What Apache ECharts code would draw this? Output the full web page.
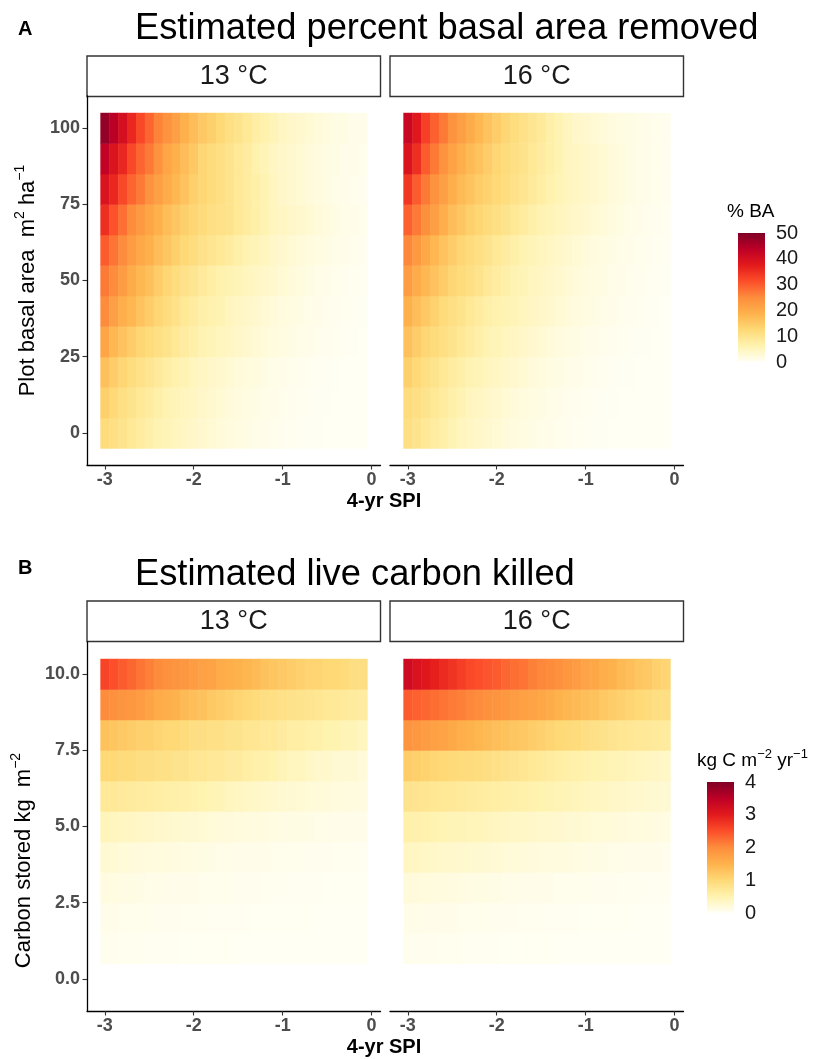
<!DOCTYPE html>
<html>
<head>
<meta charset="utf-8">
<script src="https://cdn.jsdelivr.net/npm/echarts@6/dist/echarts.min.js"></script>
<style>
html, body { margin: 0; background: #fff; }
#chart { width: 830px; height: 1059px; }
</style>
</head>
<body>
<div id="chart"></div>
<script>
const FONT = 'Liberation Sans, Arial, sans-serif'

// x: 4-yr SPI cell centres, y: row centres
const spiValues = [-3.0, -2.9, -2.8, -2.7, -2.6, -2.5, -2.4, -2.3, -2.2, -2.1, -2.0, -1.9, -1.8, -1.7, -1.6,
                   -1.5, -1.4, -1.3, -1.2, -1.1, -1.0, -0.9, -0.8, -0.7, -0.6, -0.5, -0.4, -0.3, -0.2, -0.1]
const basalRows = [0, 10, 20, 30, 40, 50, 60, 70, 80, 90, 100]
const carbonRows = [1, 2, 3, 4, 5, 6, 7, 8, 9, 10]

const spiTicks = [-3, -2, -1, 0]
const basalTicks = [0, 25, 50, 75, 100]
const carbonTicks = [0, 2.5, 5, 7.5, 10]
const pctTicks = [0, 10, 20, 30, 40, 50]
const killTicks = [0, 1, 2, 3, 4]
const facetLabels = ['13 °C', '16 °C']

// % basal area removed, 13 °C (rows bottom -> top, basal area 0..100)
const pctBA13 = [
  [12, 11, 10, 9, 8, 7, 6, 5.5, 5, 4.5, 4, 3.5, 3, 2.5, 2, 1.8, 1.5, 1.2, 1, 0.8, 0.6, 0.5, 0.4, 0.3, 0.3, 0.2, 0.2, 0.1, 0.1, 0.1],
  [14, 12.5, 11, 10, 9, 8, 7, 6, 5.5, 5, 4.5, 4, 3.5, 3, 2.5, 2, 1.8, 1.5, 1.2, 1, 0.8, 0.6, 0.5, 0.4, 0.3, 0.3, 0.2, 0.2, 0.1, 0.1],
  [16.5, 14.5, 13, 11.5, 10.5, 9.5, 8.5, 7.5, 6.5, 6, 5, 4.5, 4, 3.5, 3, 2.5, 2.2, 2, 1.5, 1.2, 1, 0.8, 0.6, 0.5, 0.4, 0.3, 0.3, 0.2, 0.2, 0.1],
  [21, 18, 16, 14.5, 13, 12, 11, 10, 9, 8, 7, 6, 5.5, 5, 4.5, 4, 3.5, 3, 2.5, 2, 1.8, 1.5, 1.2, 1, 0.8, 0.6, 0.5, 0.4, 0.3, 0.2],
  [25, 22, 19.5, 18, 16, 14.5, 13, 11.5, 10.5, 9, 8, 7, 6.5, 6, 5, 4.5, 4, 3.5, 3, 2.5, 2, 1.8, 1.5, 1.2, 1, 0.8, 0.6, 0.5, 0.4, 0.3],
  [27, 25, 22.5, 20, 18, 16.5, 14.5, 13, 11.5, 10.5, 9.5, 8.5, 7.5, 6.5, 6, 5.5, 5, 4.5, 4, 3.5, 3, 2.5, 2, 1.5, 1.2, 1, 0.8, 0.6, 0.5, 0.4],
  [30, 27.5, 25, 22.5, 20.5, 19, 17, 15.5, 14, 12.5, 11.5, 10.5, 9.5, 9, 8, 7, 6, 5.5, 5, 4, 3.5, 3, 2.5, 2, 1.8, 1.5, 1.2, 1, 0.8, 0.6],
  [35, 31, 28, 25, 23, 21, 19, 17, 15.5, 14, 13, 12, 11, 10.5, 10, 9, 8, 7, 6, 5, 4.5, 4, 3.5, 3, 2.5, 2, 1.5, 1.2, 1, 0.8],
  [39, 36, 32, 29, 27, 24, 22, 20, 18, 16, 14, 13, 12, 11, 10, 9, 8, 7, 6, 5, 4, 3.5, 3, 2.5, 2, 1.5, 1.2, 1, 0.8, 0.6],
  [43, 39, 36, 32, 29, 27, 24, 21, 19, 17, 15, 13, 12, 11, 10, 9, 8, 6.5, 5.5, 4.5, 4, 3.5, 3, 2.5, 2, 1.5, 1.5, 1, 1, 0.8],
  [48, 44, 40, 36, 32, 29, 26, 24, 22, 19, 17, 15, 14, 12.5, 11, 10, 9, 7.5, 6.5, 5.5, 4.5, 4, 3.5, 3, 2.5, 2, 1.5, 1.5, 1, 1]
]

// % basal area removed, 16 °C
const pctBA16 = [
  [11, 10, 9, 8, 7, 6, 5, 4.5, 4, 3.5, 3, 2.5, 2, 1.8, 1.5, 1.2, 1, 0.8, 0.6, 0.5, 0.4, 0.3, 0.3, 0.2, 0.2, 0.1, 0.1, 0.1, 0.1, 0.1],
  [12, 11, 10, 9, 8, 7, 6, 5, 4.5, 4, 3.5, 3, 2.5, 2, 1.8, 1.5, 1.2, 1, 0.8, 0.6, 0.5, 0.4, 0.3, 0.3, 0.2, 0.2, 0.1, 0.1, 0.1, 0.1],
  [14, 12.5, 11, 10, 9, 8, 7, 6, 5.5, 5, 4.5, 4, 3.5, 3, 2.5, 2, 1.8, 1.5, 1.2, 1, 0.8, 0.6, 0.5, 0.4, 0.3, 0.3, 0.2, 0.2, 0.1, 0.1],
  [16.5, 14.5, 13, 12, 11, 10, 9, 8, 7, 6, 5.5, 5, 4.5, 4, 3.5, 3, 2.5, 2, 1.8, 1.5, 1.2, 1, 0.8, 0.6, 0.5, 0.4, 0.3, 0.3, 0.2, 0.2],
  [19, 17, 15, 13.5, 12, 11, 10, 9, 8, 7, 6.5, 6, 5.5, 5, 4.5, 4, 3.5, 3, 2.5, 2, 1.8, 1.5, 1.2, 1, 0.8, 0.6, 0.5, 0.4, 0.3, 0.2],
  [22.5, 20, 18, 16, 14.5, 13, 12, 11, 10, 9, 8, 7, 6, 5.5, 5, 4.5, 4, 3.5, 3, 2.5, 2, 1.8, 1.5, 1.2, 1, 0.8, 0.6, 0.5, 0.4, 0.3],
  [25.5, 23, 20.5, 18, 16, 14.5, 13, 12, 11, 10, 9, 8, 7, 6, 5.5, 5, 4.5, 4, 3.5, 3, 2.5, 2, 1.8, 1.5, 1.2, 1, 0.8, 0.6, 0.5, 0.4],
  [29.5, 27, 24.5, 22, 19.5, 17, 15.5, 14, 13, 12, 11, 10, 9, 8, 7, 6, 5.5, 5, 4.5, 4, 3.5, 3, 2.5, 2, 1.5, 1.2, 1, 0.8, 0.6, 0.5],
  [34, 30, 27, 24, 22, 19.5, 17.5, 16, 14.5, 13.5, 12.5, 11.5, 10.5, 9.5, 8.5, 7.5, 6.5, 5.5, 5, 4.5, 4, 3.5, 3, 2.5, 2, 1.5, 1.2, 1, 0.8, 0.6],
  [39, 35, 30, 27, 24, 21.5, 19.5, 17.5, 16, 14.5, 13, 12, 11, 10, 9, 8, 7, 6, 5, 4.5, 4, 3.5, 3, 2.5, 2, 1.5, 1.2, 1, 0.8, 0.6],
  [42, 38, 33, 29.5, 27, 24, 22, 20, 18, 16, 14.5, 13, 11.5, 10.5, 9.5, 8.5, 7, 6, 5, 4, 3.5, 3, 2.5, 2, 1.8, 1.5, 1.2, 1, 0.8, 0.6]
]

// live carbon killed (kg C m-2 yr-1), 13 °C (rows bottom -> top, carbon 1..10)
const carbon13 = [
  [0.05, 0.05, 0.04, 0.04, 0.04, 0.03, 0.03, 0.03, 0.03, 0.02, 0.02, 0.02, 0.02, 0.02, 0.02, 0.01, 0.01, 0.01, 0.01, 0.01, 0.01, 0.01, 0.01, 0.01, 0.01, 0.01, 0.01, 0.01, 0.01, 0.01],
  [0.08, 0.08, 0.07, 0.07, 0.06, 0.06, 0.05, 0.05, 0.05, 0.04, 0.04, 0.04, 0.03, 0.03, 0.03, 0.03, 0.03, 0.02, 0.02, 0.02, 0.02, 0.02, 0.02, 0.02, 0.01, 0.01, 0.01, 0.01, 0.01, 0.01],
  [0.15, 0.14, 0.13, 0.12, 0.11, 0.1, 0.1, 0.09, 0.09, 0.08, 0.08, 0.07, 0.07, 0.06, 0.06, 0.05, 0.05, 0.05, 0.04, 0.04, 0.04, 0.03, 0.03, 0.03, 0.03, 0.02, 0.02, 0.02, 0.02, 0.02],
  [0.25, 0.24, 0.22, 0.2, 0.19, 0.18, 0.17, 0.16, 0.15, 0.14, 0.13, 0.12, 0.11, 0.1, 0.1, 0.09, 0.09, 0.08, 0.08, 0.07, 0.07, 0.06, 0.06, 0.05, 0.05, 0.05, 0.04, 0.04, 0.04, 0.03],
  [0.42, 0.4, 0.38, 0.36, 0.34, 0.32, 0.3, 0.28, 0.27, 0.26, 0.25, 0.24, 0.22, 0.2, 0.19, 0.18, 0.17, 0.16, 0.15, 0.14, 0.13, 0.12, 0.12, 0.11, 0.1, 0.1, 0.09, 0.09, 0.08, 0.08],
  [0.7, 0.7, 0.68, 0.66, 0.64, 0.62, 0.6, 0.58, 0.56, 0.55, 0.52, 0.5, 0.47, 0.44, 0.4, 0.38, 0.35, 0.33, 0.3, 0.28, 0.26, 0.25, 0.24, 0.22, 0.2, 0.2, 0.18, 0.17, 0.16, 0.15],
  [1.0, 1.0, 0.95, 0.95, 0.9, 0.9, 0.85, 0.85, 0.8, 0.8, 0.75, 0.75, 0.7, 0.7, 0.65, 0.65, 0.6, 0.55, 0.55, 0.5, 0.45, 0.4, 0.4, 0.35, 0.3, 0.3, 0.25, 0.25, 0.25, 0.2],
  [1.3, 1.25, 1.2, 1.15, 1.1, 1.1, 1.05, 1.0, 1.0, 0.95, 0.9, 0.9, 0.85, 0.85, 0.8, 0.8, 0.75, 0.75, 0.7, 0.7, 0.65, 0.6, 0.6, 0.55, 0.55, 0.5, 0.5, 0.45, 0.45, 0.4],
  [2.0, 1.95, 1.9, 1.85, 1.8, 1.7, 1.6, 1.55, 1.5, 1.4, 1.35, 1.3, 1.2, 1.15, 1.1, 1.05, 1.0, 0.95, 0.9, 0.88, 0.85, 0.82, 0.8, 0.78, 0.75, 0.72, 0.7, 0.68, 0.66, 0.64],
  [2.6, 2.5, 2.4, 2.3, 2.2, 2.1, 2.0, 1.95, 1.9, 1.85, 1.8, 1.75, 1.7, 1.6, 1.55, 1.5, 1.45, 1.4, 1.3, 1.25, 1.2, 1.15, 1.1, 1.05, 1.05, 1.0, 1.0, 0.95, 0.9, 0.9]
]

// live carbon killed, 16 °C
const carbon16 = [
  [0.06, 0.05, 0.05, 0.05, 0.04, 0.04, 0.04, 0.03, 0.03, 0.03, 0.03, 0.02, 0.02, 0.02, 0.02, 0.02, 0.02, 0.01, 0.01, 0.01, 0.01, 0.01, 0.01, 0.01, 0.01, 0.01, 0.01, 0.01, 0.01, 0.01],
  [0.1, 0.1, 0.09, 0.09, 0.08, 0.08, 0.07, 0.07, 0.06, 0.06, 0.05, 0.05, 0.05, 0.04, 0.04, 0.04, 0.03, 0.03, 0.03, 0.03, 0.02, 0.02, 0.02, 0.02, 0.02, 0.02, 0.01, 0.01, 0.01, 0.01],
  [0.2, 0.19, 0.18, 0.17, 0.16, 0.15, 0.14, 0.13, 0.12, 0.12, 0.11, 0.1, 0.1, 0.09, 0.09, 0.08, 0.08, 0.07, 0.07, 0.06, 0.06, 0.05, 0.05, 0.05, 0.04, 0.04, 0.04, 0.03, 0.03, 0.03],
  [0.38, 0.36, 0.34, 0.32, 0.3, 0.29, 0.28, 0.27, 0.26, 0.25, 0.24, 0.22, 0.21, 0.2, 0.19, 0.18, 0.17, 0.16, 0.15, 0.14, 0.13, 0.12, 0.11, 0.1, 0.1, 0.09, 0.09, 0.08, 0.08, 0.07],
  [0.55, 0.53, 0.51, 0.49, 0.47, 0.45, 0.44, 0.43, 0.42, 0.4, 0.38, 0.36, 0.35, 0.34, 0.32, 0.3, 0.29, 0.28, 0.26, 0.25, 0.24, 0.22, 0.21, 0.2, 0.19, 0.18, 0.17, 0.16, 0.15, 0.14],
  [0.8, 0.78, 0.76, 0.74, 0.72, 0.7, 0.68, 0.66, 0.64, 0.62, 0.6, 0.58, 0.56, 0.55, 0.52, 0.5, 0.48, 0.46, 0.44, 0.42, 0.4, 0.38, 0.36, 0.34, 0.32, 0.3, 0.28, 0.27, 0.26, 0.25],
  [1.15, 1.12, 1.08, 1.04, 1.0, 0.98, 0.96, 0.94, 0.92, 0.9, 0.86, 0.82, 0.78, 0.75, 0.72, 0.68, 0.64, 0.6, 0.58, 0.55, 0.52, 0.5, 0.48, 0.46, 0.45, 0.42, 0.4, 0.38, 0.36, 0.35],
  [1.9, 1.85, 1.8, 1.75, 1.7, 1.62, 1.56, 1.5, 1.45, 1.4, 1.35, 1.3, 1.25, 1.2, 1.15, 1.1, 1.05, 1.0, 0.98, 0.95, 0.9, 0.86, 0.82, 0.78, 0.75, 0.73, 0.71, 0.7, 0.68, 0.66],
  [2.4, 2.35, 2.3, 2.25, 2.2, 2.15, 2.1, 2.05, 2.0, 1.95, 1.9, 1.85, 1.8, 1.75, 1.7, 1.65, 1.6, 1.5, 1.45, 1.4, 1.35, 1.3, 1.2, 1.15, 1.1, 1.05, 1.0, 0.95, 0.9, 0.9],
  [3.3, 3.15, 3.05, 2.95, 2.85, 2.75, 2.65, 2.55, 2.5, 2.45, 2.4, 2.3, 2.25, 2.2, 2.1, 2.05, 2.0, 1.95, 1.85, 1.8, 1.7, 1.65, 1.55, 1.5, 1.4, 1.35, 1.25, 1.2, 1.1, 1.05]
]

const ylOrRd = ['#FFFFF5', '#FFF3B0', '#FED976', '#FEB24C', '#FD8D3C', '#FC4E2A', '#E31A1C', '#BD0026', '#800026']

// layout (px)
const facetLeft = [87, 390]
const facetWidth = 293.5
const panelTop = [96, 642]
const panelHeight = 369
const stripTop = [56, 601]
const stripHeight = 40.5

const tickLabel = { fontFamily: FONT, fontSize: 18, fontWeight: 'bold', color: '#4D4D4D' }
const axisLine = { show: true, onZero: false, lineStyle: { color: '#000', width: 1.3 } }
const supStyle = { fontFamily: FONT, fontSize: 14, lineHeight: 14, verticalAlign: 'top', color: '#000' }

const heatSeries = (rows, values, idx) => {
  const data = []
  rows.forEach((y, i) => values[i].forEach((v, j) => data.push([spiValues[j], y, v])))
  const dx = spiValues[1] - spiValues[0]
  const dy = rows[1] - rows[0]
  return {
    type: 'custom',
    xAxisIndex: idx,
    yAxisIndex: idx,
    data,
    renderItem: (params, api) => {
      const x = api.value(0), y = api.value(1)
      const a = api.coord([x - dx / 2, y + dy / 2])
      const b = api.coord([x + dx / 2, y - dy / 2])
      return {
        type: 'rect',
        shape: { x: a[0], y: a[1], width: b[0] - a[0] + 0.5, height: b[1] - a[1] + 0.5 },
        style: { fill: api.visual('color') }
      }
    }
  }
}

const colorbarSeries = (ticks, idx) => ({
  type: 'custom',
  xAxisIndex: idx,
  yAxisIndex: idx,
  data: [[ticks[0], ticks[ticks.length - 1]]],
  renderItem: (params, api) => {
    const a = api.coord([0, api.value(1)])
    const b = api.coord([1, api.value(0)])
    return {
      type: 'rect',
      shape: { x: a[0], y: a[1], width: b[0] - a[0], height: b[1] - a[1] },
      style: {
        fill: new echarts.graphic.LinearGradient(0, 1, 0, 0,
          ylOrRd.map((c, i) => ({ offset: i / (ylOrRd.length - 1), color: c })))
      }
    }
  }
})

const grids = []
const xAxes = []
const yAxes = []
panelTop.forEach((top, p) => {
  facetLeft.forEach((left, f) => {
    const gi = grids.length
    grids.push({ left, top, width: facetWidth, height: panelHeight, outerBoundsMode: 'none' })
    xAxes.push({
      type: 'value', gridIndex: gi, min: -3.2, max: 0.1,
      axisLine,
      axisTick: { show: true, length: 4.5, customValues: spiTicks, lineStyle: { color: '#333', width: 1.1 } },
      axisLabel: { customValues: spiTicks, margin: 6, ...tickLabel },
      splitLine: { show: false }
    })
    const ticks = p === 0 ? basalTicks : carbonTicks
    const y = {
      type: 'value', gridIndex: gi,
      min: p === 0 ? -10.5 : -1.05,
      max: p === 0 ? 110.5 : 11.05,
      show: f === 0,
      axisLine,
      axisTick: { show: true, length: 4.5, customValues: ticks, lineStyle: { color: '#333', width: 1.1 } },
      axisLabel: {
        customValues: ticks, margin: 7, ...tickLabel,
        formatter: v => (p === 0 ? String(v) : v.toFixed(1))
      },
      splitLine: { show: false },
      nameLocation: 'middle',
      nameRotate: 90
    }
    if (f === 0) {
      y.name = p === 0 ? 'Plot basal area  m{sup|2} ha{sup|\u22121}' : 'Carbon stored kg  m{sup|\u22122}'
      y.nameGap = p === 0 ? 44 : 48
      y.nameTextStyle = {
        fontFamily: FONT, fontSize: 22, lineHeight: 30, color: '#000',
        padding: p === 0 ? 0 : [0, 68, 0, 0],
        rich: { sup: supStyle }
      }
    }
    yAxes.push(y)
  })
})

// colour bars: grid 4 (% BA) and grid 5 (kg C)
const bars = [
  { left: 738, top: 233, height: 129, ticks: pctTicks },
  { left: 707, top: 782, height: 131, ticks: killTicks }
]
bars.forEach(b => {
  const gi = grids.length
  grids.push({ left: b.left, top: b.top, width: 27, height: b.height, outerBoundsMode: 'none' })
  xAxes.push({ type: 'value', gridIndex: gi, min: 0, max: 1, show: false })
  const inner = b.ticks.slice(1, -1)
  yAxes.push({
    type: 'value', gridIndex: gi, position: 'right',
    min: b.ticks[0], max: b.ticks[b.ticks.length - 1],
    axisLine: { show: false },
    axisTick: { show: true, inside: true, length: 5, customValues: inner, lineStyle: { color: '#fff', width: 1 } },
    axisLabel: { customValues: b.ticks, margin: 11, fontFamily: FONT, fontSize: 20, color: '#1a1a1a' },
    splitLine: { show: false }
  })
})
bars.forEach((b, k) => {
  yAxes.push({
    type: 'value', gridIndex: 4 + k, position: 'left',
    min: b.ticks[0], max: b.ticks[b.ticks.length - 1],
    axisLine: { show: false },
    axisTick: { show: true, inside: true, length: 5, customValues: b.ticks.slice(1, -1), lineStyle: { color: '#fff', width: 1 } },
    axisLabel: { show: false },
    splitLine: { show: false }
  })
})

const series = [
  heatSeries(basalRows, pctBA13, 0),
  heatSeries(basalRows, pctBA16, 1),
  heatSeries(carbonRows, carbon13, 2),
  heatSeries(carbonRows, carbon16, 3),
  colorbarSeries(pctTicks, 4),
  colorbarSeries(killTicks, 5)
]

// facet strips
const graphic = []
stripTop.forEach(top => {
  facetLeft.forEach((left, f) => {
    graphic.push({
      type: 'rect',
      shape: { x: left, y: top, width: facetWidth, height: stripHeight },
      style: { fill: '#fff', stroke: '#333', lineWidth: 1.4 }
    })
    graphic.push({
      type: 'text',
      x: left + facetWidth / 2,
      y: top + stripHeight / 2,
      style: {
        text: facetLabels[f], fill: '#1a1a1a', font: '27px ' + FONT,
        align: 'center', verticalAlign: 'middle'
      }
    })
  })
})

const titles = [
  { text: 'A', left: 18, top: 19, textStyle: { fontFamily: FONT, fontSize: 20, fontWeight: 'bold', color: '#000' } },
  { text: 'Estimated percent basal area removed', left: 135, top: 11,
    textStyle: { fontFamily: FONT, fontSize: 36.3, fontWeight: 'normal', color: '#000' } },
  { text: 'B', left: 18, top: 558, textStyle: { fontFamily: FONT, fontSize: 20, fontWeight: 'bold', color: '#000' } },
  { text: 'Estimated live carbon killed', left: 135, top: 557,
    textStyle: { fontFamily: FONT, fontSize: 36.3, fontWeight: 'normal', color: '#000' } },
  { text: '4-yr SPI', left: 384, top: 491, textAlign: 'center',
    textStyle: { fontFamily: FONT, fontSize: 20, fontWeight: 'bold', color: '#000' } },
  { text: '4-yr SPI', left: 384, top: 1037, textAlign: 'center',
    textStyle: { fontFamily: FONT, fontSize: 20, fontWeight: 'bold', color: '#000' } },
  { text: '% BA', left: 727, top: 202,
    textStyle: { fontFamily: FONT, fontSize: 19, fontWeight: 'normal', color: '#000' } },
  { text: 'kg C m{sup|\u22122} yr{sup|\u22121}', left: 697, top: 748,
    textStyle: { fontFamily: FONT, fontSize: 19, lineHeight: 26, fontWeight: 'normal', color: '#000',
      rich: { sup: { ...supStyle, fontSize: 13, lineHeight: 13 } } } }
].map(t => ({ padding: 0, ...t }))

const chart = echarts.init(document.getElementById('chart'), null, { renderer: 'canvas' })
chart.setOption({
  backgroundColor: '#fff',
  animation: false,
  title: titles,
  grid: grids,
  xAxis: xAxes,
  yAxis: yAxes,
  visualMap: [
    { type: 'continuous', show: false, dimension: 2, seriesIndex: [0, 1], min: 0, max: 50, inRange: { color: ylOrRd } },
    { type: 'continuous', show: false, dimension: 2, seriesIndex: [2, 3], min: 0, max: 4, inRange: { color: ylOrRd } }
  ],
  graphic,
  series
})
</script>
</body>
</html>
